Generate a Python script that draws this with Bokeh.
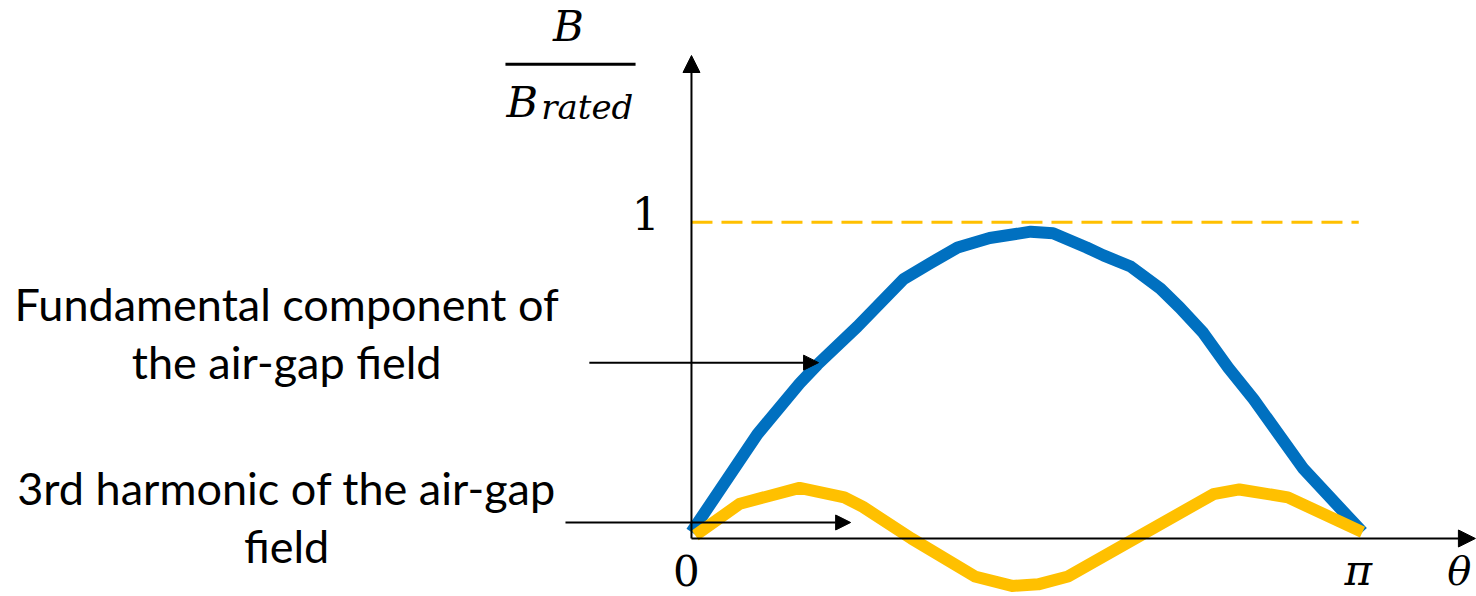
from bokeh.plotting import figure
from bokeh.models import Arrow, NormalHead, Range1d
from bokeh.core.properties import value
from bokeh.embed import file_html
from bokeh.resources import INLINE

# Air-gap flux density over one pole pitch (theta in electrical degrees, 0..180)
theta_fund = [0, 17.7, 29, 33.8, 44.5, 56.9, 64, 71.4, 80, 91, 97, 106, 110.5,
              117.8, 125.8, 131, 137.3, 144, 150.8, 164.2, 180]
b_fund = [0.02, 0.33, 0.49, 0.55, 0.67, 0.82, 0.87, 0.92, 0.95, 0.97, 0.965, 0.92, 0.895,
          0.86, 0.79, 0.73, 0.65, 0.54, 0.44, 0.22, 0.02]

theta_h3 = [1, 13, 29, 41, 46, 59, 76, 86, 93, 101, 119, 140, 147, 160, 180]
b_h3 = [0.01, 0.11, 0.16, 0.13, 0.10, 0.0, -0.12, -0.15, -0.145, -0.12, 0.0, 0.14, 0.155, 0.13, 0.02]

# Rated level reference
rated_theta = [0, 179]
rated_level = [1.0, 1.0]

# Axis tick labels
x_tick_pos = [-1.34, 178.9]
x_tick_text = ["0", "π"]
y_tick_text = ["1"]

BLUE = "#0070C0"
GOLD = "#FFC000"
MATH = "DejaVu Serif"
SANS = "Lato"
PX_PER_UNIT = 316.3  # vertical pixels per unit of B/B_rated


def lift(size_px):
    """Vertical correction so the alphabetic baseline lands where intended."""
    return 0.39 * size_px / PX_PER_UNIT


p = figure(width=1476, height=596, output_backend="svg", toolbar_location=None,
           x_range=Range1d(-185.36, 210.59), y_range=Range1d(-0.1834, 1.7009),
           min_border=0)
p.axis.visible = False
p.grid.visible = False
p.outline_line_color = None
p.background_fill_color = "white"
p.border_fill_color = "white"

# Coordinate axes drawn as arrows
p.add_layout(Arrow(end=NormalHead(size=17, fill_color="black", line_color="black"),
                   x_start=0, y_start=0, x_end=0, y_end=1.527,
                   line_width=2, line_color="black"))
p.add_layout(Arrow(end=NormalHead(size=17, fill_color="black", line_color="black"),
                   x_start=0, y_start=0, x_end=210.3, y_end=0,
                   line_width=2, line_color="black"))

# Rated level (dashed)
p.line(rated_theta, rated_level, line_color=GOLD, line_width=3, line_dash="21 9")

# Fundamental and 3rd harmonic
p.line(theta_fund, b_fund, line_color=BLUE, line_width=12, line_join="round")
p.line(theta_h3, b_h3, line_color=GOLD, line_width=12, line_join="round")

# Pointer arrows from the captions
p.add_layout(Arrow(end=NormalHead(size=15, fill_color="black", line_color="black"),
                   x_start=-27.4, y_start=0.556, x_end=34.1, y_end=0.556,
                   line_width=2, line_color="black"))
p.add_layout(Arrow(end=NormalHead(size=15, fill_color="black", line_color="black"),
                   x_start=-33.8, y_start=0.0506, x_end=42.7, y_end=0.0506,
                   line_width=2, line_color="black"))

# Tick labels
p.text(x=[x_tick_pos[0]], y=[-0.1518 + lift(42)], text=[x_tick_text[0]], text_font=value(MATH),
       text_font_size=value("42px"), text_align="center", text_baseline="alphabetic")
p.text(x=[x_tick_pos[1]], y=[-0.1518 + lift(42)], text=[x_tick_text[1]], text_font=value(MATH),
       text_font_size=value("42px"), text_align="center", text_baseline="alphabetic",
       text_font_style="italic")
p.text(x=[-12.3], y=[0.9737 + lift(44)], text=y_tick_text, text_font=value(MATH),
       text_font_size=value("44px"), text_align="center", text_baseline="alphabetic")
p.text(x=[206.0], y=[-0.1518 + lift(40)], text=["θ"], text_font=value(MATH),
       text_font_size=value("40px"), text_align="center", text_baseline="alphabetic",
       text_font_style="italic")

# y-axis label: B / B_rated
p.text(x=[-33.0], y=[1.568 + lift(42)], text=["B"], text_font=value(MATH),
       text_font_size=value("42px"), text_align="center", text_baseline="alphabetic",
       text_font_style="italic")
p.line([-49.9, -15.0], [1.499, 1.499], line_color="black", line_width=3)
p.text(x=[-49.6], y=[1.328 + lift(43)], text=["B"], text_font=value(MATH),
       text_font_size=value("43px"), text_align="left", text_baseline="alphabetic",
       text_font_style="italic")
p.text(x=[-40.3], y=[1.322 + lift(34)], text=["rated"], text_font=value(MATH),
       text_font_size=value("34px"), text_align="left", text_baseline="alphabetic",
       text_font_style="italic")

# Captions
cap_x = [-108.6, -108.6, -108.6, -108.6]
cap_y = [v + lift(45) for v in [0.6861, 0.5026, 0.1043, -0.0790]]
cap_text = ["Fundamental component of", "the air-gap field",
            "3rd harmonic of the air-gap", "field"]
p.text(x=cap_x, y=cap_y, text=cap_text, text_font=value(SANS),
       text_font_size=value("45px"), text_align="center", text_baseline="alphabetic",
       text_color="black")

open("out.html", "w").write(file_html(p, INLINE))
